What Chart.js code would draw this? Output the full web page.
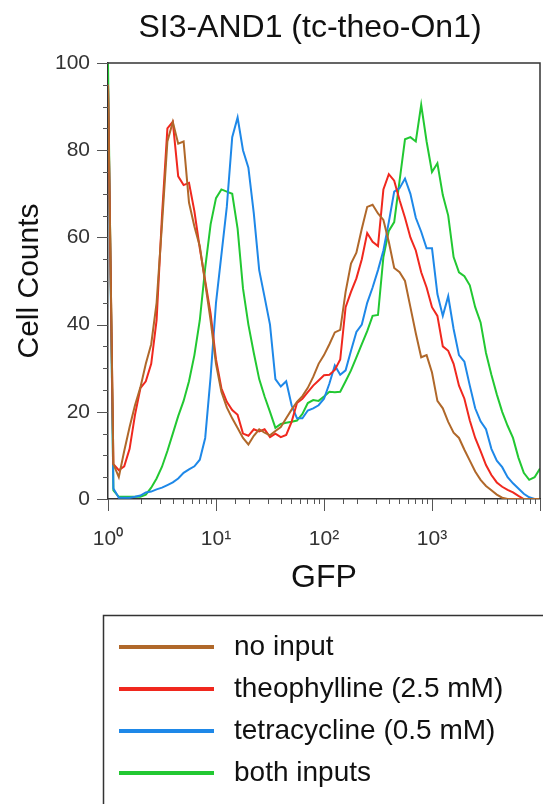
<!DOCTYPE html>
<html>
<head>
<meta charset="utf-8">
<script src="https://cdn.jsdelivr.net/npm/chart.js@4.4.1/dist/chart.umd.min.js"></script>
<style>
html, body { margin: 0; padding: 0; background: #fff; }
#wrap { width: 543px; height: 804px; }
</style>
</head>
<body>
<div id="wrap"><canvas id="flowChart" width="543" height="804"></canvas></div>
<script>
// histogram bins (GFP, log spaced) and cell counts
var gfpBins = [1, 1.122, 1.259, 1.413, 1.585, 1.778, 1.995, 2.239, 2.512, 2.818, 3.162, 3.548, 3.981, 4.467, 5.012, 5.623, 6.31, 7.079, 7.943, 8.913,
  10, 11.22, 12.59, 14.13, 15.85, 17.78, 19.95, 22.39, 25.12, 28.18, 31.62, 35.48, 39.81, 44.67, 50.12, 56.23, 63.1, 70.79, 79.43, 89.13,
  100, 112.2, 125.9, 141.3, 158.5, 177.8, 199.5, 223.9, 251.2, 281.8, 316.2, 354.8, 398.1, 446.7, 501.2, 562.3, 631, 707.9, 794.3, 891.3,
  1000, 1122, 1259, 1413, 1585, 1778, 1995, 2239, 2512, 2818, 3162, 3548, 3981, 4467, 5012, 5623, 6310, 7079, 7943, 8913, 10000];

var noInput = [95, 8, 5, 11, 16.5, 21.5, 25.6, 31, 35.5, 45, 63, 82, 86.5, 81.5, 82, 68, 62.5, 58, 49.5, 41,
  31, 24.6, 21, 18.5, 16.3, 14, 12.5, 14.5, 16, 15.2, 14.6, 15.6, 16.5, 18.5, 20.5, 22.3, 23.6, 25.5, 28, 31,
  33, 35.5, 38.2, 38.8, 47.5, 54, 56.5, 62, 67, 67.5, 65.5, 64, 59, 53, 52, 50, 44, 38, 32.5, 33,
  29, 22.5, 20.8, 17.7, 15.2, 14, 11.3, 8.8, 6.3, 4.4, 3, 2, 1, 0.3, 0, 0, 0, 0, 0, 0, 0];

var theophylline = [95, 8, 6.6, 7.5, 11.5, 19.3, 25.4, 27, 31, 41, 65, 85, 86.5, 74, 72, 72.5, 66, 57.5, 50, 42.5,
  32, 25.4, 22.3, 20.4, 19.3, 15, 14.5, 16, 15.5, 16, 14.2, 15, 14.2, 14.7, 17.7, 22, 23, 24.5, 26, 27.2,
  28.4, 28.5, 29.6, 32, 44, 47.5, 50.6, 55, 61, 59, 58, 71, 74.5, 73, 68.5, 64.5, 60, 57, 52, 48.5,
  44, 42, 35, 34, 31, 26, 23, 18, 14, 11, 7.8, 5.5, 3.8, 2.8, 2.1, 1.5, 0.7, 0, 0, 0, 0];

var tetracycline = [95, 2.4, 0.3, 0.3, 0.3, 0.5, 0.8, 1.5, 1.7, 2.2, 2.6, 3.2, 3.8, 4.7, 6, 6.8, 7.5, 9, 14, 28,
  45, 56, 67, 83, 87.5, 80, 76, 65.5, 52.5, 46.3, 40, 27.5, 25.8, 27, 21.5, 18.5, 18.5, 20.3, 20.8, 21.5,
  23, 26.5, 30.6, 28.5, 29.5, 34, 38.3, 40, 45, 48.5, 52.5, 57, 63.5, 70.5, 71.3, 73.5, 70, 64.5, 61.3, 57.5,
  57.5, 47, 42, 46.5, 39, 33, 31.5, 26, 20.8, 17.8, 16, 11.5, 8.8, 7.3, 5, 3.6, 2.4, 1.2, 0.4, 0, 0];

var bothInputs = [100, 2, 0.5, 0.5, 0.5, 0.5, 0.5, 1, 2.6, 4.7, 7.4, 11, 15, 19, 22.5, 27, 33, 41, 53, 63,
  69, 71, 70.5, 70, 62, 48.3, 40, 33.5, 27.5, 23.5, 20, 16.3, 17.2, 17.5, 17.7, 18, 19.5, 22, 22.7, 22.5,
  23.5, 24.6, 24.5, 24.6, 27, 29.5, 32.5, 35.5, 38.5, 42, 42.2, 55.5, 61.5, 63.5, 73, 82.5, 83, 82, 90.4, 82,
  75, 77, 69.7, 65, 55.5, 52, 51.1, 49, 44, 40.5, 33.5, 28.5, 24, 20, 16.8, 14, 9.5, 6, 4.4, 5, 7];

var seriesNames = ['no input', 'theophylline (2.5 mM)', 'tetracycline (0.5 mM)', 'both inputs'];
var seriesColors = ['#b0682a', '#f0281e', '#1e88e8', '#22c832'];
var supDigits = ['\u2070', '\u00b9', '\u00b2', '\u00b3'];
var chartTitle = 'SI3-AND1 (tc-theo-On1)';

var FONT = "'Liberation Sans', Arial, sans-serif";

function toPoints(arr) {
  return gfpBins.map(function(v, i) { return { x: v, y: arr[i] }; });
}

function decadeOf(v) {
  var e = Math.round(Math.log10(v));
  return Math.abs(Math.pow(10, e) - v) < 1e-6 ? e : -1;
}

// title, frame, tick marks and the boxed legend under the axis
var extrasPlugin = {
  id: 'extras',
  afterDraw: function(chart) {
    var ctx = chart.ctx;
    var area = chart.chartArea;
    var xs = chart.scales.x, ys = chart.scales.y;
    ctx.save();

    ctx.font = '32px ' + FONT;
    ctx.fillStyle = '#111';
    ctx.textAlign = 'center';
    ctx.textBaseline = 'middle';
    ctx.fillText(chartTitle, 310, 28);

    ctx.strokeStyle = '#333';
    ctx.lineWidth = 1.5;
    ctx.beginPath();
    ctx.moveTo(area.left, area.top);
    ctx.lineTo(area.right, area.top);
    ctx.lineTo(area.right, area.bottom);
    ctx.stroke();

    ctx.lineWidth = 1;
    ctx.strokeStyle = '#555';
    ctx.beginPath();
    ys.ticks.forEach(function(t) {
      var py = Math.round(ys.getPixelForValue(t.value)) + 0.5;
      var len = t.value % 20 === 0 ? 11 : 5;
      ctx.moveTo(area.left - len, py);
      ctx.lineTo(area.left, py);
    });
    xs.ticks.forEach(function(t) {
      var px = Math.round(xs.getPixelForValue(t.value)) + 0.5;
      var len = decadeOf(t.value) >= 0 ? 12 : 5;
      ctx.moveTo(px, area.bottom);
      ctx.lineTo(px, area.bottom + len);
    });
    ctx.stroke();

    // legend box
    ctx.strokeStyle = '#333';
    ctx.lineWidth = 1.5;
    ctx.strokeRect(103.5, 615.5, 460, 200);
    ctx.font = '28px ' + FONT;
    ctx.textAlign = 'left';
    ctx.textBaseline = 'middle';
    ctx.fillStyle = '#111';
    chart.data.datasets.forEach(function(ds, i) {
      var ly = 647 + i * 42;
      ctx.strokeStyle = ds.borderColor;
      ctx.lineWidth = 4;
      ctx.beginPath();
      ctx.moveTo(119, ly);
      ctx.lineTo(214, ly);
      ctx.stroke();
      ctx.fillText(ds.label, 234, ly);
    });
    ctx.restore();
  }
};

var seriesData = [noInput, theophylline, tetracycline, bothInputs];

new Chart(document.getElementById('flowChart'), {
  type: 'line',
  data: {
    datasets: seriesData.map(function(arr, i) {
      return {
        label: seriesNames[i],
        data: toPoints(arr),
        borderColor: seriesColors[i],
        backgroundColor: seriesColors[i],
        borderWidth: 2,
        pointRadius: 0,
        tension: 0,
        fill: false
      };
    })
  },
  options: {
    responsive: false,
    animation: false,
    devicePixelRatio: 1,
    layout: { padding: { left: 0, right: 3, top: 63, bottom: 205 } },
    plugins: {
      legend: { display: false },
      tooltip: { enabled: false },
      title: { display: false }
    },
    scales: {
      x: {
        type: 'logarithmic',
        position: 'bottom',
        min: 1,
        max: 10000,
        grid: { display: true, drawOnChartArea: false, drawTicks: true, tickLength: 26, tickColor: 'rgba(0,0,0,0)' },
        border: { display: true, color: '#333', width: 1.5 },
        ticks: {
          autoSkip: false,
          maxRotation: 0,
          padding: 2,
          color: '#333',
          font: { family: FONT, size: 21 },
          callback: function(value) {
            var e = decadeOf(value);
            return (e >= 0 && e < 4) ? '10' + supDigits[e] : '';
          }
        },
        title: {
          display: true,
          text: 'GFP',
          color: '#111',
          font: { family: FONT, size: 32 },
          padding: { top: 0, bottom: 2 }
        },
        afterFit: function(scale) { scale.height = 100; }
      },
      y: {
        min: 0,
        max: 100,
        grid: { display: true, drawOnChartArea: false, drawTicks: true, tickLength: 16, tickColor: 'rgba(0,0,0,0)' },
        border: { display: true, color: '#333', width: 1.5 },
        ticks: {
          stepSize: 5,
          autoSkip: false,
          padding: 2,
          color: '#333',
          font: { family: FONT, size: 21 },
          callback: function(value) { return value % 20 === 0 ? value : ''; }
        },
        title: {
          display: true,
          text: 'Cell Counts',
          color: '#111',
          font: { family: FONT, size: 30 },
          padding: { top: 12, bottom: 0 }
        },
        afterFit: function(scale) { scale.width = 108; }
      }
    }
  },
  plugins: [extrasPlugin]
});
</script>
</body>
</html>
